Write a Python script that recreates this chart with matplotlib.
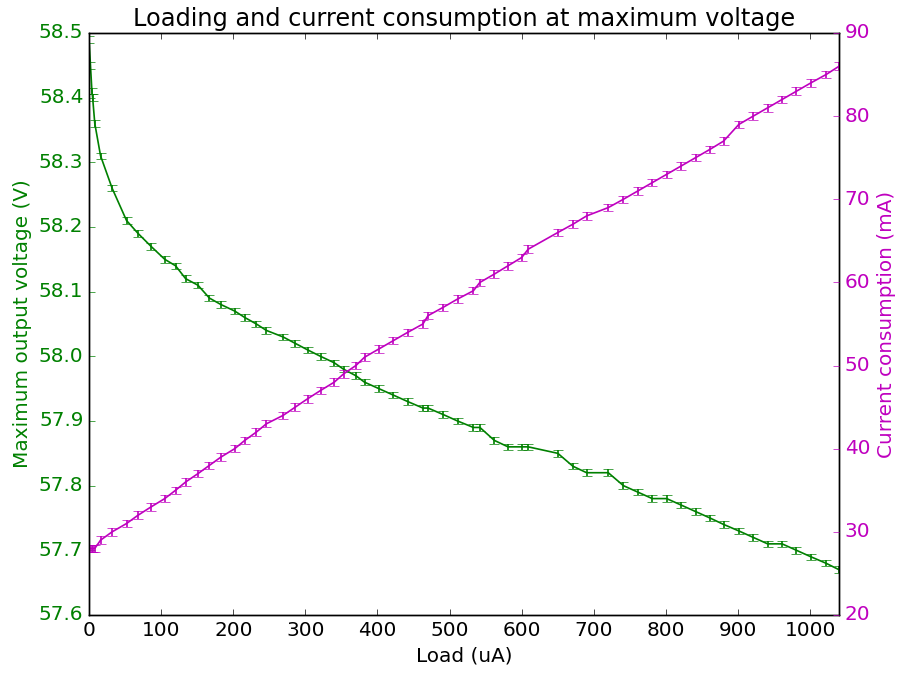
import matplotlib
matplotlib.use('Agg')
import matplotlib.pyplot as plt
from matplotlib.ticker import MultipleLocator

plt.style.use('classic')
plt.rcParams['font.family'] = ['DejaVu Sans']
plt.rcParams['font.size'] = 14.4
plt.rcParams['lines.linewidth'] = 1.2
plt.rcParams['errorbar.capsize'] = 3.6

load_ua = [0, 2, 4, 5, 8, 16, 32, 52, 68, 86, 105, 120, 134, 151, 167, 183,
           202, 216, 232, 246, 269, 286, 303, 321, 340, 353, 370, 382, 402,
           422, 442, 463, 470, 491, 511, 533, 542, 562, 581, 600, 609, 650,
           671, 690, 720, 741, 761, 781, 801, 821, 841, 861, 880, 901, 921,
           941, 961, 981, 1001, 1022, 1040]

voltage_v = [58.49, 58.45, 58.41, 58.40, 58.36, 58.31, 58.26, 58.21, 58.19,
             58.17, 58.15, 58.14, 58.12, 58.11, 58.09, 58.08, 58.07, 58.06,
             58.05, 58.04, 58.03, 58.02, 58.01, 58.00, 57.99, 57.98, 57.97,
             57.96, 57.95, 57.94, 57.93, 57.92, 57.92, 57.91, 57.90, 57.89,
             57.89, 57.87, 57.86, 57.86, 57.86, 57.85, 57.83, 57.82, 57.82,
             57.80, 57.79, 57.78, 57.78, 57.77, 57.76, 57.75, 57.74, 57.73,
             57.72, 57.71, 57.71, 57.70, 57.69, 57.68, 57.67]

current_ma = [28, 28, 28, 28, 28, 29, 30, 31, 32, 33, 34, 35, 36, 37, 38, 39,
              40, 41, 42, 43, 44, 45, 46, 47, 48, 49, 50, 51, 52, 53, 54, 55,
              56, 57, 58, 59, 60, 61, 62, 63, 64, 66, 67, 68, 69, 70, 71, 72,
              73, 74, 75, 76, 77, 79, 80, 81, 82, 83, 84, 85, 86]

voltage_err = 0.005
current_err = 0.45

fig = plt.figure(figsize=(9.02, 6.73), dpi=100, facecolor='white')
ax1 = fig.add_axes([0.0987, 0.0862, 0.8315, 0.8648])
ax1.errorbar(load_ua, voltage_v, yerr=voltage_err, color='g', ecolor='g')
ax1.set_xlim(0, load_ua[-1])
ax1.set_ylim(57.6, 58.5)
ax1.xaxis.set_major_locator(MultipleLocator(100))
ax1.yaxis.set_major_locator(MultipleLocator(0.1))
ax1.ticklabel_format(axis='y', useOffset=False)
ax1.set_xlabel('Load (uA)')
ax1.set_ylabel('Maximum output voltage (V)', color='g')
ax1.tick_params(axis='y', colors='g')
ax1.set_title('Loading and current consumption at maximum voltage', fontsize=17.3)

ax2 = ax1.twinx()
ax2.errorbar(load_ua, current_ma, yerr=current_err, color='m', ecolor='m')
ax2.set_xlim(0, load_ua[-1])
ax2.set_ylim(20, 90)
ax2.yaxis.set_major_locator(MultipleLocator(10))
ax2.set_ylabel('Current consumption (mA)', color='m')
ax2.tick_params(axis='y', colors='m')

fig.savefig('out.png', dpi=100, facecolor='white')
